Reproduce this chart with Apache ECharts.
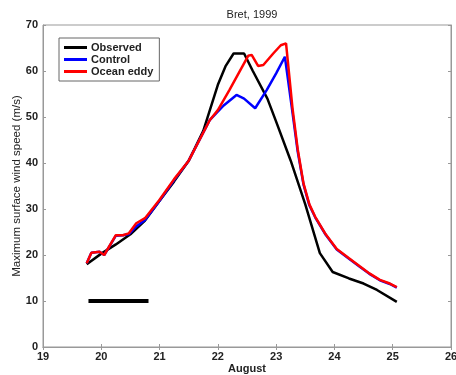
<!DOCTYPE html>
<html><head><meta charset="utf-8">
<script src="https://cdn.jsdelivr.net/npm/echarts@6/dist/echarts.min.js"></script>
<style>html,body{margin:0;padding:0;background:#fff}#c{width:456px;height:375px}</style>
</head><body><div id="c"></div>
<script>
var title = 'Bret, 1999';
var xName = 'August';
var yName = 'Maximum surface wind speed (m/s)';
var xTicks = [19, 20, 21, 22, 23, 24, 25, 26];
var yTicks = [0, 10, 20, 30, 40, 50, 60, 70];

var obsDay = [19.75, 20.0, 20.25, 20.5, 20.75, 21.0, 21.25, 21.5, 21.75, 22.0, 22.13, 22.27, 22.45, 22.6, 22.85, 23.0, 23.25, 23.5, 23.75, 23.97, 24.25, 24.5, 24.73, 25.07];
var obsVal = [18.0, 20.3, 22.3, 24.5, 27.5, 31.8, 36.0, 40.5, 47.0, 57.0, 61.0, 63.8, 63.8, 60.0, 54.0, 49.0, 40.5, 31.0, 20.4, 16.3, 14.9, 13.8, 12.4, 9.8];

var ctlDay = [19.75, 19.83, 19.97, 20.05, 20.25, 20.37, 20.47, 20.6, 20.75, 21.0, 21.25, 21.5, 21.86, 22.1, 22.32, 22.45, 22.64, 22.84, 23.0, 23.15, 23.28, 23.37, 23.47, 23.57, 23.67, 23.85, 24.04, 24.25, 24.44, 24.6, 24.78, 24.95, 25.07];
var ctlVal = [18.2, 20.5, 20.7, 20.0, 24.2, 24.3, 24.5, 26.2, 27.6, 31.8, 36.3, 40.5, 49.3, 52.5, 54.8, 54.0, 51.9, 55.9, 59.5, 63.1, 51.0, 42.5, 35.3, 30.8, 28.2, 24.4, 21.2, 19.2, 17.4, 15.9, 14.5, 13.7, 12.9];

var eddyDay = [19.75, 19.83, 19.97, 20.05, 20.25, 20.37, 20.47, 20.6, 20.75, 21.0, 21.25, 21.5, 21.86, 22.0, 22.2, 22.52, 22.58, 22.69, 22.78, 22.95, 23.08, 23.17, 23.28, 23.37, 23.47, 23.57, 23.67, 23.85, 24.04, 24.25, 24.44, 24.6, 24.78, 24.95, 25.07];
var eddyVal = [18.2, 20.5, 20.7, 20.0, 24.3, 24.3, 24.7, 26.9, 28.0, 32.0, 36.5, 40.5, 49.3, 51.5, 55.9, 63.3, 63.5, 61.1, 61.3, 63.8, 65.6, 66.0, 52.0, 43.0, 35.5, 31.0, 28.3, 24.5, 21.3, 19.3, 17.5, 16.0, 14.6, 13.8, 13.0];

var barDay = [19.78, 20.81];
var barVal = [10, 10];

function pairs(xs, ys) { return xs.map(function (x, i) { return [x, ys[i]]; }); }

var FONT = 'Liberation Sans';
var axisCol = '#999';
var chart = echarts.init(document.getElementById('c'), null, {renderer: 'canvas'});
chart.setOption({
  animation: false,
  backgroundColor: '#fff',
  title: {text: title, left: 247, top: 4, textAlign: 'center',
    textStyle: {fontFamily: FONT, fontSize: 11, fontWeight: 'normal', color: '#222'}},
  grid: {left: 43, right: 5, top: 25, bottom: 28, show: true, borderColor: axisCol, borderWidth: 1,
    containLabel: false, outerBoundsMode: 'none'},
  legend: {
    left: 59, top: 38, orient: 'vertical', itemGap: 1, itemWidth: 23, itemHeight: 3,
    padding: [4, 6, 4, 5], borderColor: '#666', borderWidth: 1, backgroundColor: '#fff',
    icon: 'rect',
    data: ['Observed', 'Control', 'Ocean eddy'],
    textStyle: {fontFamily: FONT, fontSize: 11, fontWeight: 'bold', color: '#222', padding: [0, 0, 0, -1]}
  },
  xAxis: [{
    type: 'value', min: 19, max: 26, interval: 1,
    name: xName, nameLocation: 'middle', nameGap: 16, nameMoveOverlap: false,
    nameTextStyle: {fontFamily: FONT, fontSize: 11, fontWeight: 'bold', color: '#222'},
    axisLine: {show: true, lineStyle: {color: axisCol}},
    axisTick: {show: true, inside: true, length: 3, lineStyle: {color: axisCol}},
    axisLabel: {fontFamily: FONT, fontSize: 11, fontWeight: 'bold', color: '#222', margin: 4,
      formatter: function (v) { return xTicks.indexOf(v) >= 0 ? String(v) : ''; }},
    splitLine: {show: false}
  }, {
    type: 'value', min: 19, max: 26, interval: 1, position: 'top',
    axisLine: {show: true, lineStyle: {color: axisCol}},
    axisTick: {show: true, inside: true, length: 3, lineStyle: {color: axisCol}},
    axisLabel: {show: false}, splitLine: {show: false}
  }],
  yAxis: [{
    type: 'value', min: 0, max: 70, interval: 10,
    name: yName, nameLocation: 'middle', nameGap: 20, nameMoveOverlap: false,
    nameTextStyle: {fontFamily: FONT, fontSize: 11.5, color: '#222'},
    axisLine: {show: true, lineStyle: {color: axisCol}},
    axisTick: {show: true, inside: true, length: 3, lineStyle: {color: axisCol}},
    axisLabel: {fontFamily: FONT, fontSize: 11, fontWeight: 'bold', color: '#222', margin: 5,
      formatter: function (v) { return yTicks.indexOf(v) >= 0 ? String(v) : ''; }},
    splitLine: {show: false}
  }, {
    type: 'value', min: 0, max: 70, interval: 10, position: 'right',
    axisLine: {show: true, lineStyle: {color: axisCol}},
    axisTick: {show: true, inside: true, length: 3, lineStyle: {color: axisCol}},
    axisLabel: {show: false}, splitLine: {show: false}
  }],
  series: [
    {name: 'Observed', type: 'line', data: pairs(obsDay, obsVal), showSymbol: false, symbol: 'none',
      lineStyle: {color: '#000', width: 2.5}, itemStyle: {color: '#000'}},
    {name: 'Control', type: 'line', data: pairs(ctlDay, ctlVal), showSymbol: false, symbol: 'none',
      lineStyle: {color: '#0000ff', width: 2.5}, itemStyle: {color: '#0000ff'}},
    {name: 'Ocean eddy', type: 'line', data: pairs(eddyDay, eddyVal), showSymbol: false, symbol: 'none',
      lineStyle: {color: '#ff0000', width: 2.5}, itemStyle: {color: '#ff0000'}},
    {name: 'bar', type: 'line', data: pairs(barDay, barVal), showSymbol: false, symbol: 'none',
      lineStyle: {color: '#000', width: 4, cap: 'butt'}, itemStyle: {color: '#000'}}
  ]
});
</script>
</body></html>
